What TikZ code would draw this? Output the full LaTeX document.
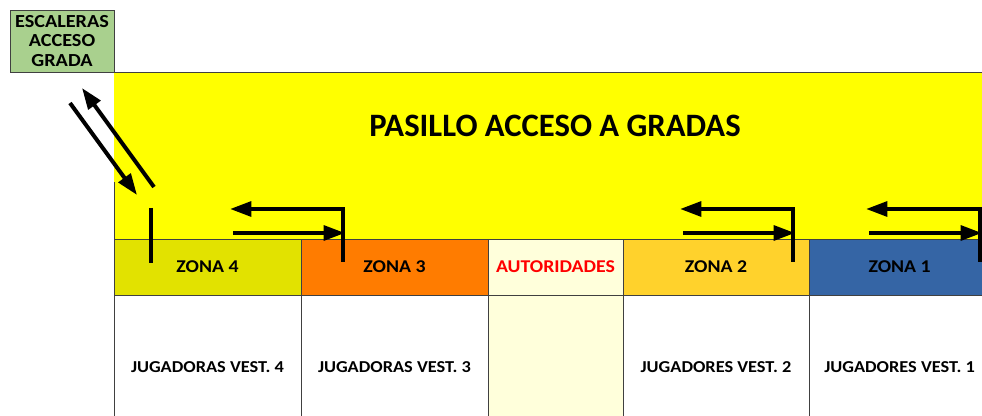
\documentclass[tikz,border=0pt]{standalone}
\usepackage{fontspec}
\setmainfont{Carlito}
\newfontfamily\ancha[FakeStretch=1.1]{Carlito}
\usetikzlibrary{arrows.meta}
\definecolor{verdeesc}{HTML}{A9D08E}
\definecolor{amarillo}{HTML}{FFFF00}
\definecolor{zonacuatro}{HTML}{E2E200}
\definecolor{zonatres}{HTML}{FF7C00}
\definecolor{crema}{HTML}{FFFFDB}
\definecolor{zonados}{HTML}{FFD22C}
\definecolor{zonauno}{HTML}{3565A5}
\definecolor{borde}{HTML}{404040}
\tikzset{
    celda/.style={draw=borde,line width=0.7pt,inner sep=0pt,outer sep=0pt,anchor=north west},
    zona/.style={celda,minimum height=42pt,font=\ancha\bfseries\fontsize{13.5}{15}\selectfont},
    vest/.style={celda,minimum height=108pt,font=\ancha\bfseries\fontsize{12.5}{14}\selectfont},
    flecha/.style={line width=3pt,-{Triangle[length=16pt,width=11pt]}},
    barra/.style={line width=3pt},
  }
\begin{document}
\begin{tikzpicture}[x=0.75pt,y=-0.75pt]
				  \useasboundingbox (0,0) rectangle (982,416);
				  %escaleras
				  \node[celda,fill=verdeesc,minimum width=78pt,minimum height=46.5pt,align=center,font=\ancha\bfseries\fontsize{13.8}{14.5}\selectfont] (esc) at (10,10) {ESCALERAS\\ACCESO\\GRADA};
				  
				  %pasillo
				  \fill[amarillo] (114,72) rectangle (982,239);
				  \draw[borde,line width=0.7pt] (114,72) -- (990,72);
				  \draw[borde,line width=0.7pt] (114,182) -- (114,416);
				  \node[font=\bfseries\fontsize{24.5}{26}\selectfont] (pasillo) at (555,126) {PASILLO ACCESO A GRADAS};
				  
				  %zonas
				  \node[zona,fill=zonacuatro,minimum width=140.25pt] (z4) at (114,239) {ZONA 4};
				  \node[zona,fill=zonatres,minimum width=140.25pt] (z3) at (301,239) {ZONA 3};
				  \node[zona,fill=crema,minimum width=101.25pt,text=red] (aut) at (488,239) {AUTORIDADES};
				  \node[zona,fill=zonados,minimum width=139.5pt] (z2) at (623,239) {ZONA 2};
				  \node[zona,fill=zonauno,minimum width=136pt] (z1) at (809,239) {ZONA 1};
				  
				  %vestuarios
				  \node[vest,minimum width=140.25pt] (v4) at (114,295) {JUGADORAS VEST. 4};
				  \node[vest,minimum width=140.25pt] (v3) at (301,295) {JUGADORAS VEST. 3};
				  \node[vest,fill=crema,minimum width=101.25pt] (va) at (488,295) {};
				  \node[vest,minimum width=139.5pt] (v2) at (623,295) {JUGADORES VEST. 2};
				  \node[vest,minimum width=136pt] (v1) at (809,295) {JUGADORES VEST. 1};
				  
				  %flechas escalera
				  \coordinate (e1) at (70,103);
				  \coordinate (e2) at (137,195);
				  \coordinate (e3) at (154,187);
				  \coordinate (e4) at (82,88);
				  \draw[flecha] (e1) -- (e2);
				  \draw[flecha] (e3) -- (e4);
				  \draw[barra] (151,208) -- (151,263);
				  
				  %flechas zonas
				  \foreach \xb/\xi in {343/230,793/680,980/866}{
				    \draw[barra] (\xb,262) -- (\xb,207);
				    \draw[flecha] (\xb+2,209) -- (\xi,209);
				    \draw[flecha] (\xi+3,233) -- (\xb+2,233);
				  }
				  
				  \end{tikzpicture}
\end{document}
